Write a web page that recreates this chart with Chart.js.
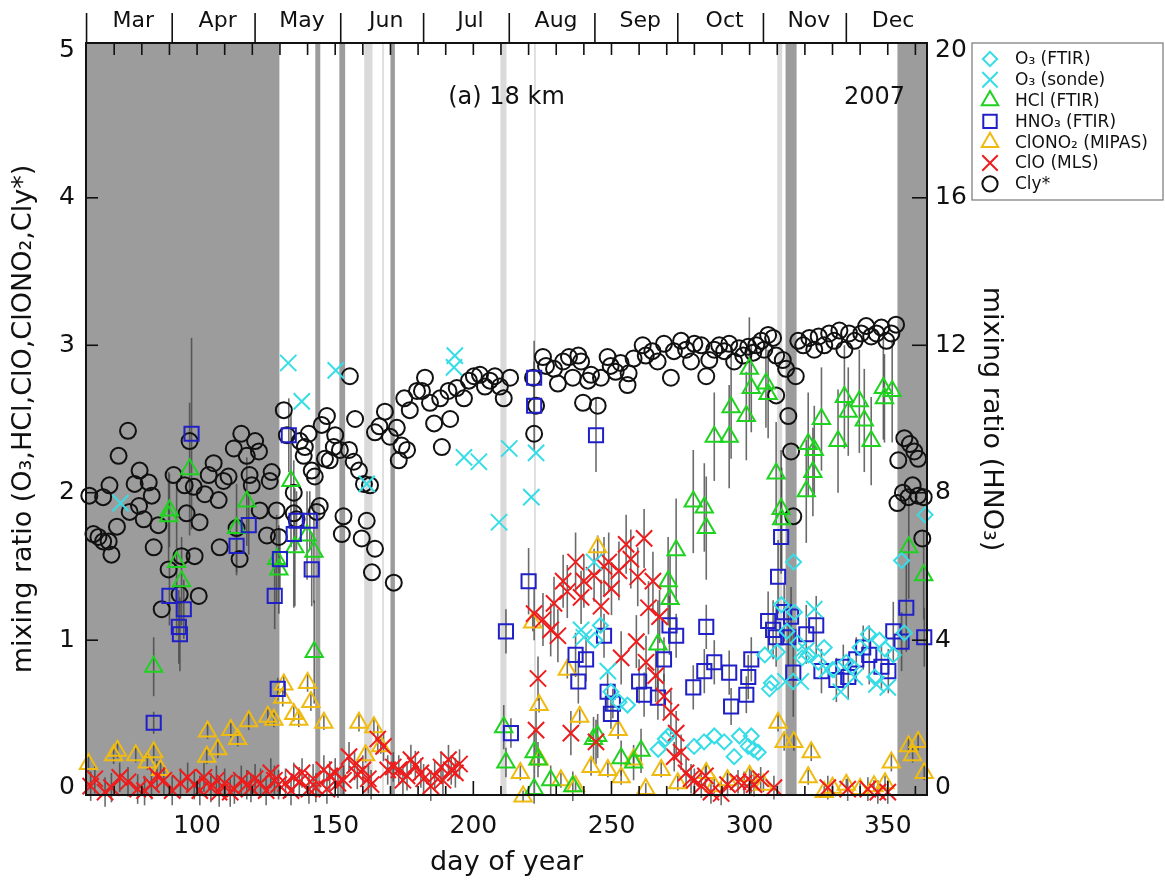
<!DOCTYPE html>
<html>
<head>
<meta charset="utf-8">
<script src="https://cdn.jsdelivr.net/npm/chart.js@4.4.1/dist/chart.umd.min.js"></script>
<style>
  html, body { margin: 0; padding: 0; background: #fff; }
</style>
</head>
<body>
<canvas id="chart" width="1165" height="885"></canvas>
<script>
// day of year ranges (shading) and month boundaries
const darkBands = [[59.8, 129.8], [142.8, 144.6], [151.5, 153.6], [170, 171.6], [313, 317], [353.5, 364.2]];
const lightBands = [[160.5, 163.5], [167, 167.6], [209.8, 212], [222, 222.6], [310, 311.8]];
const monthStarts = [60, 91, 121, 152, 182, 213, 244, 274, 305, 335, 366];
const monthNames = ['Mar', 'Apr', 'May', 'Jun', 'Jul', 'Aug', 'Sep', 'Oct', 'Nov', 'Dec'];

// [day, value] or [day, value, error]
const clyPts = [
  [61,1.98],[62.5,1.72],[64.3,1.70],[66,1.67],[68,1.67],[69,1.58],[66,1.97],[68.3,2.05],[71.6,2.25],[75,2.42],
  [71,1.77],[75.6,1.87],[77.4,2.06],[79.2,2.15],[82.5,2.07],[83.6,1.98],[80.7,1.82],[79,1.91],[84.3,1.63],[86,1.78],
  [89.7,1.48],[87.2,1.21],[91.5,2.12],[94.4,1.57],[93.7,1.31],[96.2,1.86],[97.3,2.35],[95.5,2.05],[98.8,2.04],[99.1,1.57],
  [100.6,1.30],[100.9,1.80],[102.8,1.99],[104.2,2.12],[106,2.20],[107.8,1.95],[108.2,1.63],[109.6,2.08],[111.4,2.11],[113.3,2.30],
  [116,2.40],[118,2.25],[114.3,1.76],[115.4,1.55],[119,2.12],[121,2.35],[122.4,2.28],[119.8,2.05],[122.7,1.88],[125.3,1.71],
  [126.3,2.08],[127,2.14],[128.8,1.88],[129.6,1.70],[131.4,2.56],[132.5,2.39],[135,2.00],[135,1.86],[136,1.82],[137.2,2.35],
  [139,2.31],[138.6,2.25],[140.4,2.40],[141.5,2.15],[142.6,2.11],[144.4,1.91],[143.3,1.87],[145.1,2.46],[147,2.52],[146.3,2.23],
  [148,2.22],[150,2.39],[149.5,2.31],[151.7,2.29],[155,2.29],[155.3,2.79],[156.7,2.21],[157.2,2.50],[158.6,2.15],[160.4,2.06],
  [162.6,2.05],[153,1.84],[152.4,1.72],[159.6,1.69],[161.4,1.81],[164.4,1.62],[163.3,1.46],[171.2,1.39],[164.4,2.41],[166,2.45],
  [168,2.55],[169.8,2.38],[172.3,2.44],[174,2.32],[173,2.22],[176,2.29],[175,2.64],[177,2.56],[179.6,2.69],[182.5,2.78],
  [181.4,2.69],[184.3,2.61],[185.8,2.47],[188.6,2.31],[191.6,2.50],[188,2.64],[191,2.69],[194,2.71],[196.6,2.64],[198.4,2.76],
  [200.2,2.79],[202.4,2.80],[204.2,2.72],[206,2.76],[207.8,2.79],[209.6,2.72],[211,2.64],[213.3,2.78],[221.6,2.78],[222.7,2.59],
  [222,2.40],[225.2,2.92],[226.3,2.86],[229.2,2.84],[230.6,2.74],[232.5,2.89],[234.6,2.92],[236,2.78],[238,2.93],[239,2.89],
  [239.7,2.61],[241.5,2.76],[242.6,2.80],[245,2.59],[246.2,2.78],[248.6,2.92],[249.7,2.86],[251.5,2.82],[253.3,2.88],[255.8,2.73],
  [256.2,2.81],[258,2.91],[261.3,3.00],[262.4,2.93],[264.8,2.96],[266.7,2.89],[269,3.01],[271.5,2.78],[272.6,2.96],[275.2,3.03],
  [277,2.97],[278.8,2.89],[280,3.01],[282.5,3.00],[284.3,2.79],[285.4,2.90],[287.2,2.97],[289,3.00],[290.8,2.96],[292.6,3.01],
  [294.4,2.89],[296.2,2.98],[297.7,2.93],[299.5,2.99],[301.3,2.95],[302.4,3.00],[304.2,3.03],[305.3,2.97],[306.7,3.07],[308.5,3.05],
  [309.6,2.93],[312,2.90],[313.2,2.84],[316.7,2.79],[309.6,2.66],[314,2.52],[315,2.28],[315.8,1.84],[317.6,3.03],[319.4,3.00],
  [321.6,3.05],[323.4,2.97],[325,3.06],[327,3.00],[328.8,3.08],[330.6,3.03],[332.5,3.10],[334.3,2.97],[336,3.08],[338,3.03],
  [340.4,3.08],[342.2,3.13],[344,3.06],[345.9,3.08],[347.7,3.12],[349.5,3.03],[351.3,3.08],[353,3.14],[353.8,2.22],[356,2.37],
  [358,2.33],[359.6,2.28],[361,2.23],[353.5,1.93],[355.5,2.00],[357.5,1.97],[359,2.05],[361,1.98],[363,1.97],[362.5,1.69]
];

const o3FtirPts = [
  [244,1.00],[246,1.10],[249.8,0.65],[252.7,0.58],[255.8,0.56],[266.9,0.26],[269.5,0.33],[270.5,0.35],[279.9,0.28],[283.5,0.31],
  [287.2,0.35],[290.8,0.31],[294.4,0.21],[296.3,0.35],[299.5,0.28],[300.6,0.35],[303.1,0.24],[301.4,0.26],[305.5,0.90],[307.9,0.71],
  [307.2,0.67],[310,0.92],[311.5,1.24],[313.5,1.06],[315.9,1.53],[316.2,1.19],[317.5,0.98],[319,0.88],[321.3,0.90],[324.9,0.85],
  [327,0.95],[330,0.80],[335,0.85],[337,0.82],[340,0.95],[343,1.04],[345.3,0.75],[347,1.00],[349,0.94],[352,0.90],
  [355,1.54],[356,1.05],[363.5,1.85]
];

const o3SondePts = [
  [72.3,1.93],[133,2.88],[137.9,2.62],[150.2,2.83],[161.4,2.06],[193.3,2.93],[193,2.85],[196.6,2.24],[202,2.21],[213,2.30],
  [209.3,1.80],[222.7,2.27],[221,1.97],[243.7,1.53],[239,1.07],[240,1.02],[248.7,0.79],[313,0.72],[318.5,0.72],[320.5,0.93],
  [323.4,1.21],[328,0.80],[333,0.65],[338,0.75],[345.9,0.70],[350,0.68]
];

const hclPts = [
  [97.3,2.16,0.45],[90,1.88,0.25],[92.6,1.53,0.5],[94.4,1.40,0.3],[89.7,1.84,0.3],[118,1.94,0.3],[114.3,1.76,0.3],[128.8,1.55,0.3],
  [129.6,1.48,0.3],[134,2.08,0.45],[135.4,1.63,0.4],[142.3,1.60,0.35],[139.8,1.71,0.3],[84.3,0.82,0.2],[142.4,0.92,0.35],
  [211,0.41,0.15],[211.8,0.17,0.1],[222,0.24,0.15],[223.4,0.19,0.12],[222,-0.01,0.1],[228,0.05,0.1],[236,0.01,0.1],[243.5,0.33,0.15],
  [245,0.35,0.15],[253.5,0.20,0.12],[258,0.17,0.12],[260.7,0.25,0.15],[266.8,0.97,0.3],[270.5,1.40,0.3],[271.2,1.28,0.3],[273.4,1.61,0.35],
  [284.3,1.76,0.35],[279.6,1.94,0.35],[283.6,1.90,0.3],[287.2,2.38,0.3],[292.6,2.38,0.35],[293.3,2.58,0.35],[298.8,2.52,0.3],[299.9,2.84,0.35],
  [300.6,2.71,0.3],[305.9,2.74,0.3],[306.7,2.67,0.3],[309.6,2.13,0.35],[311.4,1.89,0.4],[311.6,1.82,0.35],[321.2,2.33,0.35],[323.4,2.29,0.3],
  [320.5,2.01,0.35],[322.9,2.14,0.3],[326,2.50,0.35],[332,2.35,0.35],[334.3,2.65,0.35],[335.7,2.55,0.3],[339.7,2.62,0.35],[341.5,2.49,0.35],
  [344,2.35,0.3],[348.4,2.71,0.35],[348.8,2.64,0.3],[351.6,2.69,0.35],[357.6,1.63,0.35],[363,1.44,0.3]
];

// HNO3 in ppbv (right axis)
const hno3Pts = [
  [98,9.6,2.6],[90,5.2,0.8],[95.2,4.84,0.8],[93.4,4.36,1.0],[93.8,4.16,1.0],[118.7,7.12,0.8],[114.3,6.56,0.8],[128.1,5.2,0.9],
  [130,6.2,0.8],[133.2,9.56,1.0],[135,6.88,2.0],[136,7.24,0.8],[141.5,5.92,1.0],[140.8,7.24,0.8],[84.3,1.76,0.3],[129.2,2.68,0.3],
  [222,11.12,1.0],[222,10.36,1.2],[244.4,9.56,1.0],[220,5.6,0.9],[211.8,4.24,0.6],[213.6,1.48,0.4],[237,3.6,0.6],[238,2.88,0.6],
  [240.8,3.48,0.6],[247.3,4.12,0.6],[248.6,2.6,0.5],[249.8,2.0,0.4],[250.5,2.28,0.4],[260,2.88,0.6],[261.8,2.52,0.6],[266.8,2.44,0.6],
  [269,3.48,0.6],[271,4.4,0.8],[273.4,4.12,0.6],[279.6,2.72,0.6],[284.3,4.36,0.6],[283.6,3.16,0.6],[287.2,3.4,0.6],[292.6,3.12,0.6],
  [293.3,2.2,0.5],[298.8,2.52,0.5],[299.5,3.0,0.6],[300.6,3.48,0.6],[311.4,6.8,1.0],[310.3,5.72,1.0],[306.7,4.52,0.8],[308.5,4.28,0.8],
  [309.6,4.08,0.8],[312.5,4.76,0.8],[315,4.64,0.8],[314,4.08,0.8],[315.8,3.12,1.2],[320.5,4.16,0.8],[324.1,4.4,0.8],[326,3.16,0.6],
  [331.4,2.92,0.6],[333.9,3.28,0.6],[335.7,3.0,0.6],[338.6,3.48,0.6],[341.1,3.8,0.6],[343.3,3.6,0.8],[347.7,3.28,0.6],[350.2,3.16,0.6],
  [352,4.24,0.8],[355,3.96,0.8],[356.7,4.88,1.2],[363.2,4.08,0.8]
];

const clono2Pts = [
  [60.7,0.16,0.05],[69.8,0.22,0.06],[71.2,0.25,0.05],[77.8,0.22,0.05],[82,0.17,0.05],[84.3,0.24,0.06],[86.8,0.12,0.05],[103.8,0.38,0.05],
  [103.5,0.21,0.05],[107.5,0.26,0.06],[112.2,0.39,0.05],[114.7,0.33,0.05],[118.7,0.45,0.06],[125.6,0.48,0.06],[127.8,0.46,0.05],[131.4,0.70,0.06],
  [131,0.61,0.06],[135,0.50,0.05],[136.8,0.46,0.05],[140,0.71,0.06],[141.2,0.58,0.06],[145.9,0.44,0.05],[158.6,0.44,0.06],[161,0.22,0.05],
  [164,0.41,0.06],[166.5,0.28,0.05],[217,0.10,0.05],[218,-0.06,0.04],[221.5,1.12,0.06],[223.8,0.56,0.05],[223.8,0.19,0.05],[231.7,0.05,0.05],
  [234,0.80,0.06],[237,0.01,0.04],[238.5,0.48,0.05],[242.6,0.14,0.06],[245,1.63,0.08],[248.7,0.12,0.05],[252.4,0.39,0.06],[253.5,0.07,0.05],
  [258,0.19,0.05],[262.4,-0.01,0.04],[268,0.12,0.05],[274,0.03,0.05],[284.3,0.10,0.06],[287.2,0.01,0.05],[292,0.05,0.05],[300,0.08,0.05],
  [305,0.02,0.05],[310.3,0.44,0.06],[312.5,0.31,0.06],[316,0.31,0.06],[321.2,0.07,0.05],[322.3,0.24,0.06],[327,-0.03,0.04],[330,0.00,0.04],
  [335,0.02,0.04],[340,-0.01,0.04],[345,0.01,0.04],[349,0.03,0.05],[351.3,0.17,0.06],[357.5,0.28,0.06],[359,0.22,0.05],[361,0.31,0.06],
  [363.2,0.10,0.05]
];

const cloPts = [
  [61.5,0.01,0.1],[63,0.06,0.1],[66.7,-0.03,0.1],[69,0.00,0.1],[72,0.07,0.1],[75,0.04,0.1],[78.5,-0.01,0.1],[81,-0.02,0.1],
  [83.5,0.02,0.1],[85.5,0.08,0.1],[88,0.05,0.1],[91,-0.02,0.1],[94,0.03,0.1],[96.6,0.07,0.1],[99,0.02,0.1],[101,-0.02,0.1],
  [102.5,0.07,0.1],[105,0.00,0.1],[107,0.05,0.1],[108,-0.03,0.1],[110,0.03,0.1],[112,-0.03,0.1],[113.5,-0.01,0.1],[116,0.05,0.1],
  [118,0.02,0.1],[119.5,0.00,0.1],[121,0.06,0.1],[123,0.03,0.1],[125,-0.02,0.1],[126.7,0.10,0.1],[128,0.05,0.1],[129.5,0.02,0.1],
  [132,0.03,0.1],[134,-0.02,0.1],[135,0.07,0.1],[137,0.04,0.1],[138,0.10,0.1],[140.5,-0.01,0.1],[142,0.06,0.1],[143,0.00,0.1],
  [145.9,0.12,0.1],[147,-0.01,0.1],[148,0.08,0.1],[150,0.10,0.1],[151,0.03,0.1],[153,0.05,0.1],[155,0.21,0.1],[157,0.15,0.1],
  [158,0.09,0.1],[160,0.12,0.1],[162,0.06,0.1],[163,0.02,0.1],[165.4,0.33,0.1],[167.5,0.28,0.1],[169,0.12,0.1],[171,0.14,0.1],
  [173,0.12,0.1],[174.5,0.05,0.1],[176,0.08,0.1],[177.4,0.19,0.1],[179,0.15,0.1],[181,0.10,0.1],[182,0.06,0.1],[184.6,0.01,0.1],
  [186,0.08,0.1],[188.3,0.14,0.1],[189,0.05,0.1],[191,0.19,0.1],[192,0.12,0.1],[193.5,0.10,0.1],[195,0.16,0.1],
  [222,1.18,0.18],[225.2,1.14,0.18],[228,1.07,0.18],[230.6,1.03,0.18],[229.2,1.25,0.18],[232.5,1.40,0.18],[234,1.33,0.18],[237,1.53,0.2],
  [239,1.29,0.18],[240,1.40,0.18],[243.7,1.44,0.18],[246.2,1.23,0.18],[247.3,1.50,0.2],[249,1.53,0.2],[250,1.35,0.18],[252.7,1.47,0.2],
  [255.3,1.65,0.2],[257,1.55,0.2],[259.5,1.43,0.2],[261.8,1.69,0.2],[263.4,1.22,0.18],[265,1.40,0.2],[267.4,1.16,0.18],[259,0.99,0.18],
  [253.5,0.88,0.18],[262.5,0.85,0.18],[266,0.76,0.18],[269,0.62,0.15],[271.5,0.51,0.15],[273.4,0.37,0.15],[275.2,0.24,0.12],[223.4,0.74,0.15],
  [222.7,0.39,0.15],[235.3,0.37,0.15],[244.4,0.31,0.15],
  [272.7,0.21,0.1],[277,0.10,0.1],[278.8,0.06,0.1],[280,0.05,0.08],[282.5,0.01,0.08],[284,0.08,0.08],[286,-0.03,0.08],[289.7,-0.04,0.08],
  [292,0.02,0.08],[295.8,0.04,0.08],[298,0.03,0.08],[300.6,0.04,0.08],[301.6,0.02,0.08],[304,0.06,0.08],[308.8,0.00,0.08],[328.3,0.00,0.08],
  [335.5,-0.01,0.08],[342.8,-0.01,0.08],[346.4,-0.03,0.08],[350,-0.03,0.08]
];

const FONT = "'DejaVu Sans', sans-serif";
Chart.defaults.font.family = FONT;
Chart.defaults.color = '#111';

const toXY = pts => pts.map(p => ({ x: p[0], y: p[1], e: p[2] || 0 }));

function series(label, pts, color, style, radius, axis) {
  return {
    label: label,
    data: toXY(pts),
    yAxisID: axis || 'y',
    pointStyle: style,
    pointRadius: radius,
    pointBorderWidth: 2,
    pointBorderColor: color,
    pointBackgroundColor: 'rgba(0,0,0,0)',
    showLine: false,
    clip: false
  };
}

const datasets = [
  series('O\u2083 (FTIR)', o3FtirPts, '#36dde6', 'rectRot', 7.5),
  series('O\u2083 (sonde)', o3SondePts, '#36dde6', 'crossRot', 11.5),
  series('ClO (MLS)', cloPts, '#ee1c1c', 'crossRot', 11.5),
  series('HNO\u2083 (FTIR)', hno3Pts, '#2020c8', 'rect', 10, 'y2'),
  series('HCl (FTIR)', hclPts, '#1fd21f', 'triangle', 10),
  series('ClONO\u2082 (MIPAS)', clono2Pts, '#f0bb10', 'triangle', 10),
  series('Cly*', clyPts, '#111111', 'circle', 8)
];
const legendOrder = [0, 1, 4, 3, 5, 2, 6];

const deco = {
  id: 'deco',
  beforeDatasetsDraw(chart) {
    const { ctx, chartArea: a, scales: { x } } = chart;
    ctx.save();
    const band = (list, col) => list.forEach(([d0, d1]) => {
      const x0 = Math.max(a.left, x.getPixelForValue(d0));
      const x1 = Math.min(a.right, x.getPixelForValue(d1));
      ctx.fillStyle = col;
      ctx.fillRect(x0, a.top, x1 - x0, a.bottom - a.top);
    });
    band(lightBands, '#dadada');
    band(darkBands, '#9c9c9c');

    // error bars
    ctx.strokeStyle = 'rgba(70,70,70,0.8)';
    ctx.lineWidth = 1.6;
    chart.data.datasets.forEach(ds => {
      const ys = chart.scales[ds.yAxisID];
      ds.data.forEach(p => {
        if (!p.e) return;
        const px = x.getPixelForValue(p.x);
        ctx.beginPath();
        ctx.moveTo(px, ys.getPixelForValue(p.y - p.e));
        ctx.lineTo(px, ys.getPixelForValue(p.y + p.e));
        ctx.stroke();
      });
    });
    ctx.restore();
  },
  afterDatasetsDraw(chart) {
    const { ctx, chartArea: a, scales: { x, y, y2 } } = chart;
    ctx.save();
    ctx.strokeStyle = '#111';
    ctx.lineWidth = 2;

    // frame
    ctx.strokeRect(a.left, a.top, a.right - a.left, a.bottom - a.top);

    // ticks every 10 days, inside, top and bottom
    ctx.lineWidth = 1.6;
    for (let d = 70; d <= 360; d += 10) {
      const px = x.getPixelForValue(d);
      const big = d % 50 === 0 ? 14 : 9;
      ctx.beginPath();
      ctx.moveTo(px, a.top); ctx.lineTo(px, a.top + 12);
      ctx.moveTo(px, a.bottom); ctx.lineTo(px, a.bottom - big);
      ctx.stroke();
    }
    // left / right ticks
    for (let v = 1; v <= 4; v++) {
      const py = y.getPixelForValue(v);
      ctx.beginPath(); ctx.moveTo(a.left, py); ctx.lineTo(a.left + 12, py); ctx.stroke();
    }
    for (let v = 4; v <= 16; v += 4) {
      const py = y2.getPixelForValue(v);
      ctx.beginPath(); ctx.moveTo(a.right, py); ctx.lineTo(a.right - 15, py); ctx.stroke();
    }

    // month axis on top
    ctx.fillStyle = '#111';
    ctx.font = '22px ' + FONT;
    ctx.textAlign = 'center';
    ctx.textBaseline = 'middle';
    monthStarts.forEach((d, i) => {
      const px = x.getPixelForValue(d);
      if (px <= a.right + 1) {
        ctx.beginPath(); ctx.moveTo(px, a.top); ctx.lineTo(px, a.top - 30); ctx.stroke();
      }
      if (i < monthNames.length) {
        const mid = x.getPixelForValue((d + monthStarts[i + 1]) / 2);
        ctx.fillText(monthNames[i], mid + 4, a.top - 22);
      }
    });

    // annotations
    ctx.font = '24px ' + FONT;
    ctx.fillText('(a) 18 km', (a.left + a.right) / 2, a.top + 55);
    ctx.textAlign = 'right';
    ctx.fillText('2007', a.right - 22, a.top + 55);

    // legend
    const lx = a.right + 45, ly = a.top, lw = 1163 - lx, lh = 157;
    ctx.strokeStyle = '#777';
    ctx.lineWidth = 1.2;
    ctx.strokeRect(lx, ly, lw, lh);
    ctx.font = '17px ' + FONT;
    ctx.textAlign = 'left';
    legendOrder.forEach((k, i) => {
      const ds = chart.data.datasets[k];
      const cy = ly + 16 + i * 20.8;
      ctx.strokeStyle = ds.pointBorderColor;
      ctx.fillStyle = 'rgba(0,0,0,0)';
      ctx.lineWidth = 2;
      Chart.helpers.drawPoint(ctx, { pointStyle: ds.pointStyle, radius: ds.pointRadius * 0.95, rotation: 0, borderWidth: 2 }, lx + 18, cy);
      ctx.fillStyle = '#111';
      ctx.fillText(ds.label, lx + 43, cy + 1);
    });
    ctx.restore();
  }
};

new Chart(document.getElementById('chart'), {
  type: 'scatter',
  data: { datasets: datasets },
  options: {
    responsive: false,
    animation: false,
    events: [],
    layout: { padding: { top: 43, left: 0, right: 158, bottom: 0 } },
    plugins: { legend: { display: false }, tooltip: { enabled: false } },
    scales: {
      x: {
        type: 'linear', position: 'bottom', min: 59.8, max: 364.2,
        grid: { display: false, drawTicks: false }, border: { display: false },
        ticks: { stepSize: 50, includeBounds: false, padding: 16, maxRotation: 0, font: { size: 25 } },
        title: { display: true, text: 'day of year', font: { size: 27 }, padding: { top: 4, bottom: 6 } },
        afterFit: s => { s.height = 90; }
      },
      y: {
        type: 'linear', position: 'left', min: -0.05, max: 5.05,
        grid: { display: false, drawTicks: false }, border: { display: false },
        ticks: { stepSize: 1, includeBounds: false, padding: 11, font: { size: 25 } },
        title: { display: true, text: 'mixing ratio (O\u2083,HCl,ClO,ClONO\u2082,Cly*)', font: { size: 27 }, padding: { top: 8, bottom: 4 } },
        afterFit: s => { s.width = 86; }
      },
      y2: {
        type: 'linear', position: 'right', min: -0.2, max: 20.2,
        grid: { display: false, drawTicks: false }, border: { display: false },
        ticks: { stepSize: 4, includeBounds: false, padding: 8, font: { size: 25 } },
        title: { display: true, text: 'mixing ratio (HNO\u2083)', font: { size: 27 }, padding: { top: 0, bottom: 4 } },
        afterFit: s => { s.width = 80; }
      }
    }
  },
  plugins: [deco]
});
</script>
</body>
</html>
